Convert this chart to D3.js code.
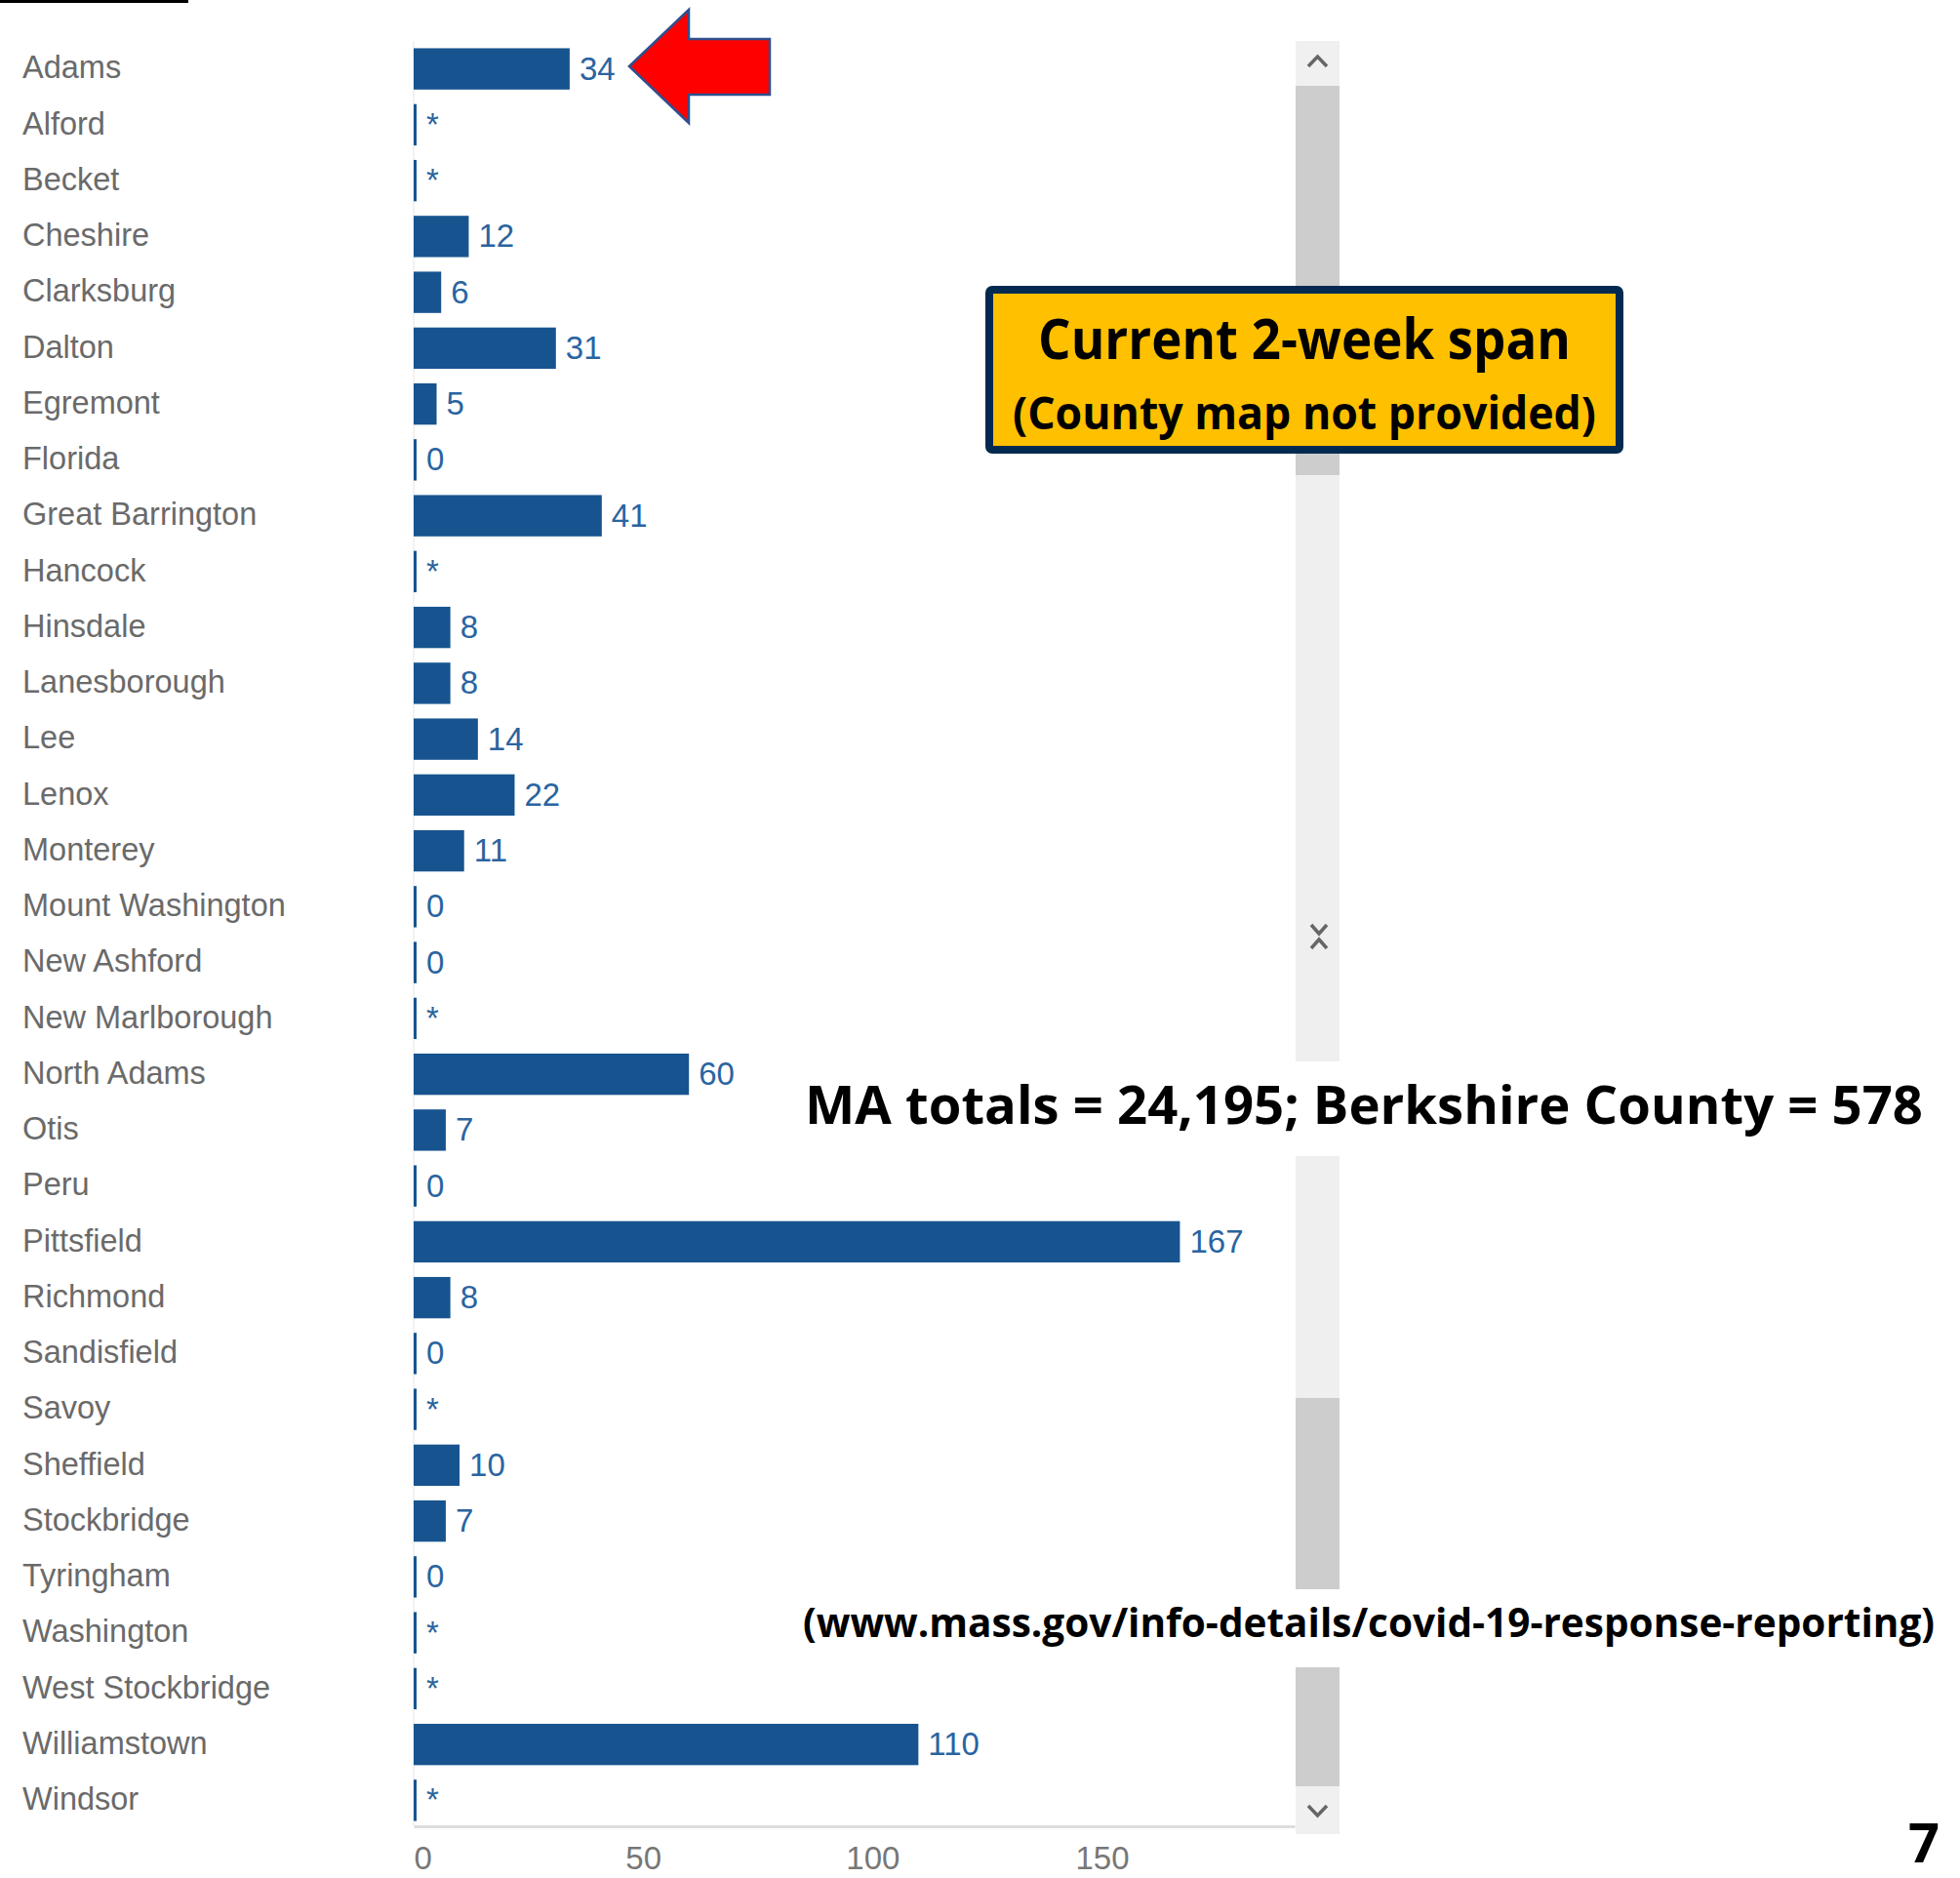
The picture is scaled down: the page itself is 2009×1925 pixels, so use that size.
<!DOCTYPE html>
<html>
<head>
<meta charset="utf-8">
<script src="https://cdn.jsdelivr.net/npm/d3@7"></script>
<style>
  body { margin: 0; background: #fff; }
  .town { font-family: "Liberation Sans", Arial, sans-serif; font-size: 32.5px; fill: #6a6a6a; }
  .val { font-family: "Liberation Sans", Arial, sans-serif; font-size: 33px; fill: #2a64a0; }
  .tick text { font-family: "Liberation Sans", Arial, sans-serif; font-size: 33px; fill: #777; }
  .note { font-family: "Open Sans", sans-serif; font-weight: 700; fill: #000; }
</style>
</head>
<body>
<div id="chart"></div>
<script>
// data (null = suppressed, shown as "*")
var towns = ["Adams", "Alford", "Becket", "Cheshire", "Clarksburg", "Dalton", "Egremont",
  "Florida", "Great Barrington", "Hancock", "Hinsdale", "Lanesborough", "Lee", "Lenox",
  "Monterey", "Mount Washington", "New Ashford", "New Marlborough", "North Adams", "Otis",
  "Peru", "Pittsfield", "Richmond", "Sandisfield", "Savoy", "Sheffield", "Stockbridge",
  "Tyringham", "Washington", "West Stockbridge", "Williamstown", "Windsor"];
var cases = [34, null, null, 12, 6, 31, 5, 0, 41, null, 8, 8, 14, 22, 11, 0, 0, null, 60, 7,
  0, 167, 8, 0, null, 10, 7, 0, null, null, 110, null];
var xTicks = [0, 50, 100, 150];

var svgWidth = 2009;
var svgHeight = 1925;

var svg = d3.select("#chart")
  .append("svg")
  .attr("width", svgWidth)
  .attr("height", svgHeight);

var data = towns.map(function(t, i) { return {town: t, value: cases[i]}; });

// scales
var xScale = d3.scaleLinear().domain([0, 192]).range([424, 1327]);
var yScale = d3.scaleBand().domain(towns).range([42, 1874])
  .paddingInner(0.26).paddingOuter(0.13);

// top-left rule
svg.append("rect").attr("x", 0).attr("y", 0).attr("width", 193).attr("height", 3).attr("fill", "#000");

// faint baseline at zero
svg.append("line")
  .attr("x1", xScale(0)).attr("x2", xScale(0))
  .attr("y1", 42).attr("y2", 1872)
  .attr("stroke", "#e6e6e6").attr("stroke-width", 1);

// scrollbar (background pieces)
var scrollX = 1328, scrollW = 45;
var scrollParts = [
  [42, 88, "#f0f0f0"], [88, 487, "#cdcdcd"], [487, 1088, "#efefef"],
  [1185, 1433, "#efefef"], [1433, 1629, "#cdcdcd"], [1709, 1831, "#cdcdcd"], [1831, 1880, "#f0f0f0"]
];
svg.selectAll("rect.scroll")
  .data(scrollParts)
  .enter()
  .append("rect")
  .attr("class", "scroll")
  .attr("x", scrollX)
  .attr("y", d => d[0])
  .attr("width", scrollW)
  .attr("height", d => d[1] - d[0])
  .attr("fill", d => d[2]);

var chev = svg.append("g").attr("fill", "none").attr("stroke", "#666").attr("stroke-width", 3.5);
chev.append("path").attr("d", "M1341,68 L1350.5,58 L1360,68");
chev.append("path").attr("d", "M1341,1851 L1350.5,1861 L1360,1851");
chev.append("path").attr("d", "M1344,948 L1352,957 L1360,948 M1344,972 L1352,963 L1360,972");

// bars
svg.selectAll("rect.bar")
  .data(data)
  .enter()
  .append("rect")
  .attr("class", "bar")
  .attr("x", xScale(0))
  .attr("y", d => yScale(d.town))
  .attr("width", d => Math.max(xScale(d.value || 0) - xScale(0), 3))
  .attr("height", yScale.bandwidth())
  .attr("fill", "#17548f");

// value labels
svg.selectAll("text.val")
  .data(data)
  .enter()
  .append("text")
  .attr("class", "val")
  .attr("x", d => Math.max(xScale(d.value || 0), xScale(0) + 3) + 10)
  .attr("y", d => yScale(d.town) + yScale.bandwidth() / 2)
  .attr("dy", "0.33em")
  .text(d => d.value === null ? "*" : d.value);

// town labels
svg.selectAll("text.town")
  .data(data)
  .enter()
  .append("text")
  .attr("class", "town")
  .attr("x", 23)
  .attr("y", d => yScale(d.town) + yScale.bandwidth() / 2)
  .attr("dy", "0.3em")
  .text(d => d.town);

// x axis
var xAxis = svg.append("g")
  .attr("class", "tick")
  .attr("transform", "translate(0, 1872)")
  .call(d3.axisBottom(xScale).tickValues(xTicks).tickSize(0));
xAxis.select(".domain").attr("stroke", "#dcdcdc").attr("stroke-width", 3);
xAxis.selectAll("text").attr("y", 44).attr("dy", 0)
  .attr("text-anchor", d => d === 0 ? "start" : "middle");

// red arrow pointing at Adams
svg.append("path")
  .attr("d", "M645,68 L706,10 L706,40 L789,40 L789,97 L706,97 L706,126 Z")
  .attr("fill", "#ff0000")
  .attr("stroke", "#2f4f8f")
  .attr("stroke-width", 2.5);

// yellow note box
svg.append("rect")
  .attr("x", 1014).attr("y", 297)
  .attr("width", 646).attr("height", 164)
  .attr("rx", 3)
  .attr("fill", "#ffc000")
  .attr("stroke", "#022a50")
  .attr("stroke-width", 8);

svg.append("text").attr("class", "note")
  .attr("x", 1337).attr("y", 368)
  .attr("text-anchor", "middle")
  .attr("font-size", 57)
  .attr("textLength", 546).attr("lengthAdjust", "spacingAndGlyphs")
  .text("Current 2-week span");

svg.append("text").attr("class", "note")
  .attr("x", 1337).attr("y", 440)
  .attr("text-anchor", "middle")
  .attr("font-size", 47)
  .attr("textLength", 598).attr("lengthAdjust", "spacingAndGlyphs")
  .text("(County map not provided)");

svg.append("text").attr("class", "note")
  .attr("x", 825).attr("y", 1152)
  .attr("font-size", 54)
  .attr("textLength", 1146).attr("lengthAdjust", "spacingAndGlyphs")
  .text("MA totals = 24,195; Berkshire County = 578");

svg.append("text").attr("class", "note")
  .attr("x", 823).attr("y", 1678)
  .attr("font-size", 41)
  .attr("textLength", 1160).attr("lengthAdjust", "spacingAndGlyphs")
  .text("(www.mass.gov/info-details/covid-19-response-reporting)");

svg.append("text").attr("class", "note")
  .attr("x", 1988).attr("y", 1909)
  .attr("text-anchor", "end")
  .attr("font-size", 56)
  .text("7");
</script>
</body>
</html>
